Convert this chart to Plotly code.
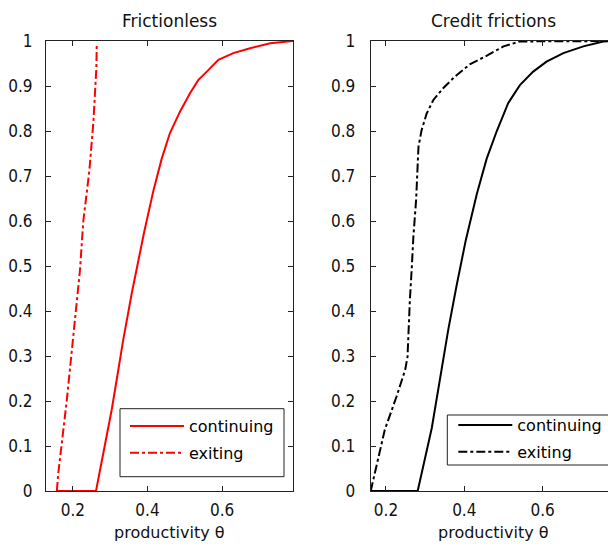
import plotly.graph_objects as go
from plotly.subplots import make_subplots

# ---- data ----
fl_cont_theta = [0.157, 0.262, 0.283, 0.304, 0.320, 0.335, 0.358, 0.375, 0.391, 0.416, 0.438, 0.460, 0.487, 0.514, 0.536, 0.559, 0.590, 0.630, 0.675, 0.729, 0.790]
fl_cont_cdf   = [0.0,   0.0,   0.09,  0.18,  0.26,  0.336, 0.44,  0.51,  0.575, 0.668, 0.738, 0.795, 0.843, 0.884, 0.913, 0.932, 0.958, 0.973, 0.984, 0.995, 1.0]

fl_exit_theta = [0.157, 0.161, 0.1835, 0.219, 0.228, 0.244, 0.255, 0.259, 0.263, 0.264]
fl_exit_cdf   = [0.0,   0.04,  0.20,   0.49,  0.60,  0.71,  0.82,  0.88,  0.94,  0.99]

cf_cont_theta = [0.161, 0.281, 0.317, 0.359, 0.380, 0.404, 0.432, 0.457, 0.483, 0.512, 0.542, 0.576, 0.610, 0.653, 0.704, 0.755, 0.790]
cf_cont_cdf   = [0.0,   0.0,   0.14,  0.358, 0.455, 0.558, 0.66,  0.738, 0.80,  0.862, 0.902, 0.932, 0.954, 0.973, 0.988, 0.999, 1.0]

cf_exit_theta = [0.161, 0.197, 0.227, 0.249, 0.255, 0.257, 0.261, 0.266, 0.270, 0.277, 0.280, 0.283, 0.291, 0.304, 0.321, 0.346, 0.376, 0.414, 0.461, 0.500, 0.542, 0.790]
cf_exit_cdf   = [0.0,   0.136, 0.21,  0.269, 0.298, 0.358, 0.424, 0.498, 0.565, 0.647, 0.715, 0.765, 0.802, 0.839, 0.869, 0.895, 0.921, 0.948, 0.969, 0.988, 0.999, 1.0]

titles = ["Frictionless", "Credit frictions"]
xlabel = "productivity θ"
series_names = ["continuing", "exiting"]
x_ticks = [0.2, 0.4, 0.6]
x_ticklabels = ["0.2", "0.4", "0.6"]
y_ticks = [0, 0.1, 0.2, 0.3, 0.4, 0.5, 0.6, 0.7, 0.8, 0.9, 1]
y_ticklabels = ["0", "0.1", "0.2", "0.3", "0.4", "0.5", "0.6", "0.7", "0.8", "0.9", "1"]

W, H = 608, 548
FONT = "DejaVu Sans"
TICKFONT = dict(family="Liberation Sans Narrow, Arial Narrow, DejaVu Sans Condensed", size=17, color="#111111")

fig = make_subplots(rows=1, cols=2)

fig.add_trace(go.Scatter(x=fl_cont_theta, y=fl_cont_cdf, mode="lines", name=series_names[0],
                         line=dict(color="#ff0000", width=2), legend="legend", legendgroup="a"), 1, 1)
fig.add_trace(go.Scatter(x=fl_exit_theta, y=fl_exit_cdf, mode="lines", name=series_names[1],
                         line=dict(color="#ff0000", width=2, dash="dashdot"), legend="legend", legendgroup="b"), 1, 1)
fig.add_trace(go.Scatter(x=cf_cont_theta, y=cf_cont_cdf, mode="lines", name=series_names[0],
                         line=dict(color="#000000", width=2), legend="legend2", legendgroup="c"), 1, 2)
fig.add_trace(go.Scatter(x=cf_exit_theta, y=cf_exit_cdf, mode="lines", name=series_names[1],
                         line=dict(color="#000000", width=2, dash="dashdot"), legend="legend2", legendgroup="d"), 1, 2)

axis_common = dict(showgrid=False, zeroline=False, linecolor="#222222", linewidth=1,
                   ticks="inside", ticklen=5, tickcolor="#222222", tickfont=TICKFONT)

d1 = [46 / W, 293 / W]
d2 = [370.7 / W, 1.0]
ydom = [1 - 491 / H, 1 - 41 / H]

legend_common = dict(xanchor="left", yanchor="top", bgcolor="rgba(0,0,0,0)", borderwidth=0,
                     font=dict(family=FONT, size=16, color="black"), itemwidth=54,
                     tracegroupgap=3, traceorder="grouped")

fig.update_layout(
    width=W, height=H,
    margin=dict(l=0, r=0, t=0, b=0, autoexpand=False),
    paper_bgcolor="white", plot_bgcolor="white",
    font=dict(family=FONT, size=15, color="black"),
    xaxis=dict(domain=d1, range=[0.128, 0.790], tickvals=x_ticks, ticktext=x_ticklabels,
               mirror="ticks", ticklabelstandoff=4, **axis_common),
    yaxis=dict(domain=ydom, range=[0, 1], tickvals=y_ticks, ticktext=y_ticklabels,
               mirror="ticks", ticklabelstandoff=9, **axis_common),
    xaxis2=dict(domain=d2, range=[0.161, 0.767], tickvals=x_ticks, ticktext=x_ticklabels,
                mirror="ticks", ticklabelstandoff=4, **axis_common),
    yaxis2=dict(domain=ydom, range=[0, 1], tickvals=y_ticks, ticktext=y_ticklabels,
                anchor="x2", mirror=False, ticklabelstandoff=11, **axis_common),
    legend=dict(x=125 / W, y=1 - 409 / H, **legend_common),
    legend2=dict(x=453.3 / W, y=1 - 408 / H, **legend_common),
    showlegend=True,
)

# legend frames
fig.add_shape(type="rect", xref="paper", yref="paper", layer="above",
              x0=120 / W, x1=284 / W, y0=1 - 476.7 / H, y1=1 - 408.7 / H,
              line=dict(color="#222222", width=1), fillcolor="white")
fig.add_shape(type="rect", xref="paper", yref="paper", layer="above",
              x0=447.3 / W, x1=640 / W, y0=1 - 465 / H, y1=1 - 415 / H,
              line=dict(color="#222222", width=1), fillcolor="white")

centers = [(d1[0] + d1[1]) / 2, (370.7 + 617) / 2 / W]
for t, xc in zip(titles, centers):
    fig.add_annotation(text=t, xref="paper", yref="paper", x=xc, y=1 - 21 / H,
                       xanchor="center", yanchor="middle", showarrow=False,
                       font=dict(family=FONT, size=17, color="#111111"))
    fig.add_annotation(text=xlabel, xref="paper", yref="paper", x=xc, y=1 - 532 / H,
                       xanchor="center", yanchor="middle", showarrow=False,
                       font=dict(family=FONT, size=16, color="#111111"))

fig.write_html("out.html", post_script="document.body.style.margin='0';",
               config={"displayModeBar": False})
